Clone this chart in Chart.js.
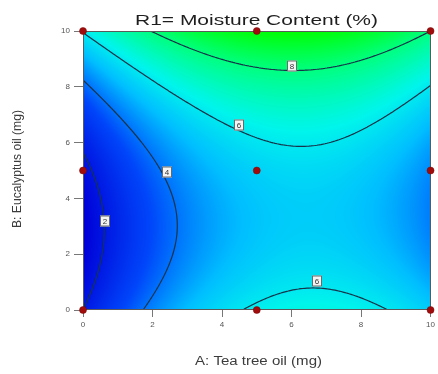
<!DOCTYPE html>
<html>
<head>
<meta charset="utf-8">
<script src="https://cdn.jsdelivr.net/npm/chart.js@4.4.0/dist/chart.umd.min.js"></script>
<style>
  html, body { margin: 0; padding: 0; background: #fff; }
</style>
</head>
<body>
<canvas id="myChart" width="438" height="374"></canvas>
<script>
// grid levels (mg)
const teaTree = [0, 2, 4, 6, 8, 10];
const eucalyptus = [0, 2, 4, 6, 8, 10];
// moisture content (%) - one row per eucalyptus level, columns follow teaTree
const moisture = [
  [2.01, 4.26, 5.72, 6.39, 6.26, 5.35],
  [1.32, 3.51, 4.91, 5.53, 5.35, 4.38],
  [1.38, 3.52, 4.86, 5.42, 5.18, 4.15],
  [2.20, 4.27, 5.56, 6.06, 5.77, 4.68],
  [3.76, 5.78, 7.01, 7.45, 7.10, 5.96],
  [6.08, 8.04, 9.22, 9.60, 9.19, 8.00]
];
const contourLevels = [2, 4, 6, 8];
// design runs
const runTeaTree = [0, 5, 10, 0, 5, 10, 0, 5, 10];
const runEucalyptus = [0, 0, 0, 5, 5, 5, 10, 10, 10];

// where the level boxes sit (A, B)
const levelTags = [
  { level: 8, a: 6.02, b: 8.75 },
  { level: 6, a: 4.50, b: 6.63 },
  { level: 4, a: 2.42, b: 4.95 },
  { level: 2, a: 0.64, b: 3.20 },
  { level: 6, a: 6.74, b: 1.05 }
];

const FONT = '"Liberation Sans", Arial, sans-serif';

// Catmull-Rom through 4 nodes
function cubic(p0, p1, p2, p3, t) {
  return p1 + 0.5 * t * (p2 - p0 + t * (2 * p0 - 5 * p1 + 4 * p2 - p3 + t * (3 * (p1 - p2) + p3 - p0)));
}
function node(row, i) {
  const n = row.length;
  if (i < 0) return 3 * row[0] - 3 * row[1] + row[2];
  if (i >= n) return 3 * row[n - 1] - 3 * row[n - 2] + row[n - 3];
  return row[i];
}
function along(row, u) {
  const i = Math.min(Math.max(Math.floor(u), 0), row.length - 2);
  const t = u - i;
  return cubic(node(row, i - 1), node(row, i), node(row, i + 1), node(row, i + 2), t);
}
function moistureAt(a, b) {
  const u = (a - teaTree[0]) / (teaTree[1] - teaTree[0]);
  const v = (b - eucalyptus[0]) / (eucalyptus[1] - eucalyptus[0]);
  const col = moisture.map(r => along(r, u));
  return along(col, v);
}

const zMin = Math.min(...moisture.flat());
const zMax = Math.max(...moisture.flat());
const ramp = [
  [0.00, [0, 0, 215]],
  [0.25, [0, 70, 250]],
  [0.45, [0, 190, 255]],
  [0.60, [0, 245, 235]],
  [0.80, [0, 255, 130]],
  [1.00, [0, 255, 0]]
];
function colour(z) {
  let t = (z - zMin) / (zMax - zMin);
  t = Math.max(0, Math.min(1, t));
  for (let k = 1; k < ramp.length; k++) {
    if (t <= ramp[k][0]) {
      const [t0, c0] = ramp[k - 1], [t1, c1] = ramp[k];
      const f = (t - t0) / (t1 - t0);
      return [0, 1, 2].map(j => c0[j] + (c1[j] - c0[j]) * f);
    }
  }
  return ramp[ramp.length - 1][1];
}

const surface = {
  id: 'surface',
  beforeDatasetsDraw(chart) {
    const { ctx, chartArea, scales } = chart;
    const xs = scales.x, ys = scales.y;
    const left = Math.round(chartArea.left), top = Math.round(chartArea.top);
    const w = Math.round(chartArea.right) - left, h = Math.round(chartArea.bottom) - top;

    // filled field
    const off = document.createElement('canvas');
    off.width = w; off.height = h;
    const octx = off.getContext('2d');
    const img = octx.createImageData(w, h);
    for (let py = 0; py < h; py++) {
      const b = ys.getValueForPixel(top + py + 0.5);
      for (let px = 0; px < w; px++) {
        const a = xs.getValueForPixel(left + px + 0.5);
        const c = colour(moistureAt(a, b));
        const k = (py * w + px) * 4;
        img.data[k] = c[0]; img.data[k + 1] = c[1]; img.data[k + 2] = c[2]; img.data[k + 3] = 255;
      }
    }
    octx.putImageData(img, 0, 0);
    ctx.drawImage(off, left, top);

    // contour lines (marching squares)
    const step = 2;
    const nx = Math.ceil(w / step) + 1, ny = Math.ceil(h / step) + 1;
    const gx = [], gy = [], g = [];
    for (let i = 0; i < nx; i++) gx.push(left + Math.min(i * step, w));
    for (let j = 0; j < ny; j++) gy.push(top + Math.min(j * step, h));
    for (let j = 0; j < ny; j++) {
      const b = ys.getValueForPixel(gy[j]);
      const row = [];
      for (let i = 0; i < nx; i++) row.push(moistureAt(xs.getValueForPixel(gx[i]), b));
      g.push(row);
    }
    ctx.save();
    ctx.beginPath();
    ctx.rect(chartArea.left, chartArea.top, chartArea.right - chartArea.left, chartArea.bottom - chartArea.top);
    ctx.clip();
    ctx.strokeStyle = '#17334a';
    ctx.lineWidth = 1.2;
    ctx.lineCap = 'round';
    for (const lv of contourLevels) {
      ctx.beginPath();
      for (let j = 0; j < ny - 1; j++) {
        for (let i = 0; i < nx - 1; i++) {
          const z00 = g[j][i], z10 = g[j][i + 1], z11 = g[j + 1][i + 1], z01 = g[j + 1][i];
          const x0 = gx[i], x1 = gx[i + 1], y0 = gy[j], y1 = gy[j + 1];
          const pts = [];
          if ((z00 > lv) !== (z10 > lv)) pts.push([x0 + (x1 - x0) * (lv - z00) / (z10 - z00), y0]);
          if ((z10 > lv) !== (z11 > lv)) pts.push([x1, y0 + (y1 - y0) * (lv - z10) / (z11 - z10)]);
          if ((z01 > lv) !== (z11 > lv)) pts.push([x0 + (x1 - x0) * (lv - z01) / (z11 - z01), y1]);
          if ((z00 > lv) !== (z01 > lv)) pts.push([x0, y0 + (y1 - y0) * (lv - z00) / (z01 - z00)]);
          if (pts.length === 2) {
            ctx.moveTo(pts[0][0], pts[0][1]); ctx.lineTo(pts[1][0], pts[1][1]);
          } else if (pts.length === 4) {
            const mid = (z00 + z10 + z11 + z01) / 4;
            if ((mid > lv) === (z00 > lv)) {
              ctx.moveTo(pts[0][0], pts[0][1]); ctx.lineTo(pts[1][0], pts[1][1]);
              ctx.moveTo(pts[2][0], pts[2][1]); ctx.lineTo(pts[3][0], pts[3][1]);
            } else {
              ctx.moveTo(pts[0][0], pts[0][1]); ctx.lineTo(pts[3][0], pts[3][1]);
              ctx.moveTo(pts[1][0], pts[1][1]); ctx.lineTo(pts[2][0], pts[2][1]);
            }
          }
        }
      }
      ctx.stroke();
    }
    ctx.restore();

    // level boxes
    ctx.save();
    ctx.font = '8px ' + FONT;
    ctx.textAlign = 'center';
    ctx.textBaseline = 'middle';
    for (const tag of levelTags) {
      const px = Math.round(xs.getPixelForValue(tag.a)), py = Math.round(ys.getPixelForValue(tag.b));
      ctx.fillStyle = '#f4f4f4';
      ctx.fillRect(px - 5, py - 5.5, 10, 11);
      ctx.strokeStyle = '#6a6a6a';
      ctx.lineWidth = 1;
      ctx.strokeRect(px - 5 + 0.5, py - 5.5 + 0.5, 9, 10);
      ctx.fillStyle = '#333';
      ctx.fillText(String(tag.level), px, py + 0.5);
    }
    ctx.restore();

    // frame
    ctx.save();
    ctx.strokeStyle = '#5a5a5a';
    ctx.lineWidth = 1;
    ctx.strokeRect(left + 0.5, top + 0.5, w - 1, h - 1);
    ctx.restore();
  }
};

// text squeezed/stretched to a given width
function stretchedText(ctx, text, x, y, width, font, color, angle) {
  ctx.save();
  ctx.font = font;
  ctx.fillStyle = color;
  ctx.textAlign = 'center';
  ctx.textBaseline = 'middle';
  const natural = ctx.measureText(text).width;
  ctx.translate(x, y);
  if (angle) ctx.rotate(angle);
  ctx.scale(width / natural, 1);
  ctx.fillText(text, 0, 0);
  ctx.restore();
}

const titles = {
  id: 'titles',
  afterDraw(chart) {
    const ctx = chart.ctx;
    stretchedText(ctx, 'R1= Moisture Content (%)', 256.5, 21, 243, '15px ' + FONT, '#1e1e1e');
    stretchedText(ctx, 'A: Tea tree oil (mg)', 258.5, 362, 127, '12px ' + FONT, '#3c3c3c');
    stretchedText(ctx, 'B: Eucalyptus oil (mg)', 18, 169, 118, '12px ' + FONT, '#3c3c3c', -Math.PI / 2);
  }
};

const axisCommon = {
  type: 'linear',
  min: 0,
  max: 10,
  ticks: { stepSize: 2, color: '#555', font: { size: 8, family: FONT } },
  grid: { drawOnChartArea: false, drawTicks: true, color: '#777' },
  border: { display: false }
};

new Chart(document.getElementById('myChart'), {
  type: 'scatter',
  data: {
    datasets: [{
      data: runTeaTree.map((a, i) => ({ x: a, y: runEucalyptus[i] })),
      pointRadius: 3.5,
      pointHoverRadius: 3.5,
      backgroundColor: '#a00c0c',
      borderColor: '#7a0505',
      borderWidth: 0.5,
      clip: false
    }]
  },
  options: {
    responsive: false,
    animation: false,
    layout: { padding: { left: 0, right: 5, top: 31, bottom: 0 } },
    plugins: {
      legend: { display: false },
      title: { display: false },
      tooltip: { enabled: false }
    },
    scales: {
      x: {
        ...axisCommon,
        ticks: { ...axisCommon.ticks, padding: 3 },
        grid: { ...axisCommon.grid, tickLength: 7 },
        afterFit: s => { s.height = 64; }
      },
      y: {
        ...axisCommon,
        ticks: { ...axisCommon.ticks, padding: 4 },
        grid: { ...axisCommon.grid, tickLength: 9 },
        afterFit: s => { s.width = 83; }
      }
    }
  },
  plugins: [surface, titles]
});
</script>
</body>
</html>
